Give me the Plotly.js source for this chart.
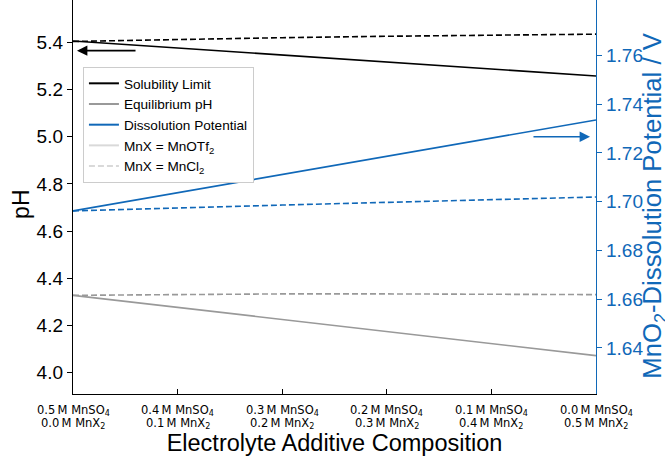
<!DOCTYPE html>
<html>
<head>
<meta charset="utf-8">
<script src="https://cdn.plot.ly/plotly-3.0.1.min.js"></script>
<style>html,body{margin:0;padding:0;background:#fff}#chart{width:665px;height:456px}</style>
</head>
<body>
<div id="chart"></div>
<script>
// ---- data ----
const xPos = [0, 1, 2, 3, 4, 5];
const mnso4Conc = ['0.5', '0.4', '0.3', '0.2', '0.1', '0.0'];
const mnxConc = ['0.0', '0.1', '0.2', '0.3', '0.4', '0.5'];
const solubilityOTf = [5.407, 5.377, 5.347, 5.317, 5.288, 5.258];
const solubilityCl = [5.405, 5.414, 5.421, 5.427, 5.432, 5.436];
const eqPhOTf = [4.327, 4.276, 4.224, 4.173, 4.122, 4.071];
const eqPhCl = [4.327, 4.331, 4.333, 4.333, 4.332, 4.330];
const dissOTf = [1.6962, 1.7037, 1.7112, 1.7187, 1.7261, 1.7335];
const dissCl = [1.6962, 1.6975, 1.6986, 1.6997, 1.7008, 1.7019];
const leftTicks = [4.0, 4.2, 4.4, 4.6, 4.8, 5.0, 5.2, 5.4];
const rightTicks = [1.64, 1.66, 1.68, 1.70, 1.72, 1.74, 1.76];

const BLUE = '#1068b8';
const BLACK = '#000000';
const GRAY = '#999999';
const LIGHT = '#d9d9d9';
const DASH = '6px,3px';
const FONT = 'Liberation Sans, Arial, sans-serif';
const TICKFONT = 'DejaVu Sans, sans-serif';

const traces = [
  {x: xPos, y: solubilityOTf, mode: 'lines', line: {color: BLACK, width: 1.6}, showlegend: false},
  {x: xPos, y: solubilityCl, mode: 'lines', line: {color: BLACK, width: 1.6, dash: DASH}, showlegend: false},
  {x: xPos, y: eqPhOTf, mode: 'lines', line: {color: GRAY, width: 1.6}, showlegend: false},
  {x: xPos, y: eqPhCl, mode: 'lines', line: {color: GRAY, width: 1.6, dash: DASH}, showlegend: false},
  {x: xPos, y: dissOTf, yaxis: 'y2', mode: 'lines', line: {color: BLUE, width: 1.6}, showlegend: false},
  {x: xPos, y: dissCl, yaxis: 'y2', mode: 'lines', line: {color: BLUE, width: 1.6, dash: DASH}, showlegend: false},
  // legend entries
  {x: [null], y: [null], mode: 'lines', name: 'Solubility Limit', line: {color: BLACK, width: 2}},
  {x: [null], y: [null], mode: 'lines', name: 'Equilibrium pH', line: {color: GRAY, width: 2}},
  {x: [null], y: [null], mode: 'lines', name: 'Dissolution Potential', line: {color: BLUE, width: 2}},
  {x: [null], y: [null], mode: 'lines', name: 'MnX = MnOTf<sub>2</sub>', line: {color: LIGHT, width: 2}},
  {x: [null], y: [null], mode: 'lines', name: 'MnX = MnCl<sub>2</sub>', line: {color: LIGHT, width: 2, dash: DASH}}
];

// two-line category labels under each tick
const tickAnnotations = [];
xPos.forEach((xv, i) => {
  tickAnnotations.push({x: xv, xref: 'x', y: 0, yref: 'paper', yanchor: 'middle', yshift: -16,
    showarrow: false, text: mnso4Conc[i] + '\u2009M MnSO<sub>4</sub>',
    font: {family: TICKFONT, size: 11.5, color: '#000'}});
  tickAnnotations.push({x: xv, xref: 'x', y: 0, yref: 'paper', yanchor: 'middle', yshift: -29,
    showarrow: false, text: mnxConc[i] + '\u2009M MnX<sub>2</sub>',
    font: {family: TICKFONT, size: 11.5, color: '#000'}});
});

const titleAnnotations = [
  {text: 'pH', xref: 'paper', yref: 'paper', x: 0, y: 0.48, xanchor: 'center', yanchor: 'middle',
   xshift: -52, textangle: -90, showarrow: false, font: {size: 23, family: FONT, color: '#000'}},
  {text: 'MnO<sub>2</sub>-Dissolution Potential / V', xref: 'paper', yref: 'paper', x: 1, y: 0.478,
   xanchor: 'center', yanchor: 'middle', xshift: 58, textangle: -90, showarrow: false,
   font: {size: 25.7, family: FONT, color: BLUE}}
];

const layout = {
  width: 665, height: 456,
  margin: {l: 73, r: 69, t: 0, b: 62},
  paper_bgcolor: '#fff', plot_bgcolor: '#fff',
  font: {family: FONT, color: '#000'},
  showlegend: true,
  legend: {
    x: 0.019, y: 0.83, xanchor: 'left', yanchor: 'top',
    bgcolor: '#fff', bordercolor: '#cccccc', borderwidth: 1,
    font: {size: 13.6, family: FONT, color: '#000'},
    tracegroupgap: 0, itemwidth: 30
  },
  xaxis: {
    range: [0, 5], tickmode: 'array', tickvals: xPos, showticklabels: false,
    ticks: 'inside', ticklen: 5, tickcolor: '#000',
    showline: true, linecolor: '#000', linewidth: 1.2, showgrid: false, zeroline: false,
    title: {text: 'Electrolyte Additive Composition', font: {size: 23.5}, standoff: 49}
  },
  yaxis: {
    range: [3.908, 5.581], tickmode: 'array', tickvals: leftTicks,
    ticktext: leftTicks.map(v => v.toFixed(1)),
    ticks: 'outside', ticklen: 5, tickcolor: '#000', tickfont: {size: 19},
    showline: true, linecolor: '#000', linewidth: 1.2, showgrid: false, zeroline: false
  },
  yaxis2: {
    overlaying: 'y', side: 'right',
    range: [1.6211, 1.7827], tickmode: 'array', tickvals: rightTicks,
    ticktext: rightTicks.map(v => v.toFixed(2)),
    ticks: 'outside', ticklen: 5, tickcolor: BLUE, tickfont: {size: 19, color: BLUE},
    showline: true, linecolor: BLUE, linewidth: 1.2, showgrid: false, zeroline: false
  },
  annotations: [
    {x: 0.038, y: 5.366, xref: 'x', yref: 'y', ax: 0.612, ay: 5.366, axref: 'x', ayref: 'y',
     showarrow: true, arrowhead: 2, arrowsize: 1.3, arrowwidth: 1.6, arrowcolor: BLACK, text: ''},
    {x: 4.943, y: 1.7266, xref: 'x', yref: 'y2', ax: 4.388, ay: 1.7266, axref: 'x', ayref: 'y2',
     showarrow: true, arrowhead: 2, arrowsize: 1.3, arrowwidth: 1.6, arrowcolor: BLUE, text: ''}
  ].concat(tickAnnotations, titleAnnotations)
};

Plotly.newPlot('chart', traces, layout, {displayModeBar: false, staticPlot: true});
</script>
</body>
</html>
